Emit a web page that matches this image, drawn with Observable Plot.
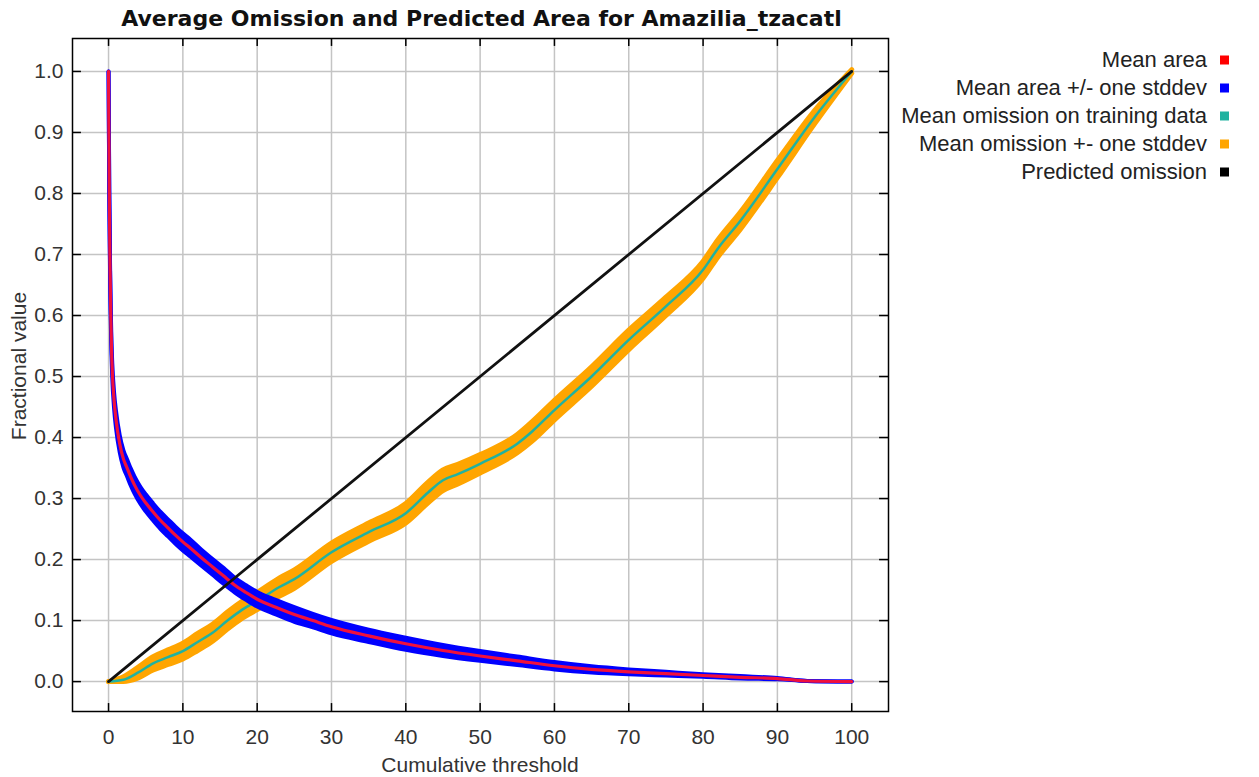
<!DOCTYPE html>
<html>
<head>
<meta charset="utf-8">
<script src="https://cdn.jsdelivr.net/npm/d3@7"></script>
<script src="https://cdn.jsdelivr.net/npm/@observablehq/plot@0.6"></script>
<style>
  html, body { margin: 0; padding: 0; background: #ffffff; }
  #wrap { position: relative; width: 1259px; height: 777px; overflow: hidden; font-family: "Liberation Sans", Arial, sans-serif; }
  #chart { position: absolute; left: 0; top: 0; }
  .title { position: absolute; left: 0; width: 963px; top: 6px; text-align: center; font-family: "DejaVu Sans", sans-serif; font-weight: bold; font-size: 22px; color: #111; white-space: nowrap; }
  .ylab { position: absolute; left: 19px; top: 366px; transform: translate(-50%, -50%) rotate(-90deg); font-size: 21px; color: #333; white-space: nowrap; }
  .xlab { position: absolute; left: 480px; top: 765px; transform: translate(-50%, -50%); font-size: 21px; color: #333; white-space: nowrap; }
  .leg { position: absolute; right: 52px; font-size: 22px; color: #222; white-space: nowrap; transform: translateY(-50%); }
  .sw { position: absolute; left: 1220px; width: 9px; height: 9px; transform: translateY(-50%); }
</style>
</head>
<body>
<div id="wrap">
  <div id="chart"></div>
  <div class="title">Average Omission and Predicted Area for Amazilia_tzacatl</div>
  <div class="ylab">Fractional value</div>
  <div class="xlab">Cumulative threshold</div>
  <div id="legend"></div>
</div>
<script>
// ---- Data ----
const xTicks = [0, 10, 20, 30, 40, 50, 60, 70, 80, 90, 100];
const yTicks = [0, 0.1, 0.2, 0.3, 0.4, 0.5, 0.6, 0.7, 0.8, 0.9, 1.0];

const areaThreshold = [0, 0.1, 0.2, 0.3, 0.4, 0.5, 0.75, 1.0, 1.5, 2.0, 2.5, 3.0, 3.5, 4.3, 5, 6, 7, 8, 9, 10, 11, 12.5, 14, 15.5, 17, 18.5, 20, 22.5, 25, 27.5, 30, 35, 40, 45, 50, 55, 60, 65, 70, 75, 80, 85, 90, 94, 100];
const meanArea      = [1.0, 0.8, 0.68, 0.6, 0.545, 0.51, 0.46, 0.43, 0.39, 0.365, 0.35, 0.335, 0.322, 0.305, 0.293, 0.278, 0.264, 0.252, 0.24, 0.229, 0.219, 0.203, 0.188, 0.173, 0.158, 0.146, 0.135, 0.122, 0.11, 0.1, 0.09, 0.075, 0.062, 0.051, 0.042, 0.034, 0.026, 0.02, 0.016, 0.013, 0.01, 0.007, 0.005, 0.001, 0.0];
const areaStddev    = [0.0, 0.004, 0.006, 0.008, 0.010, 0.012, 0.013, 0.014, 0.014, 0.014, 0.014, 0.014, 0.014, 0.014, 0.014, 0.014, 0.014, 0.014, 0.014, 0.014, 0.014, 0.013, 0.013, 0.013, 0.012, 0.012, 0.012, 0.012, 0.012, 0.011, 0.011, 0.010, 0.010, 0.009, 0.008, 0.007, 0.006, 0.005, 0.004, 0.003, 0.002, 0.002, 0.001, 0.0, 0.0];

const omissionThreshold = [0, 2, 4, 6, 8, 10, 12, 14, 16, 18, 20, 23, 25, 30, 35, 40, 43, 45, 47, 50, 55, 57, 60, 65, 70, 75, 80, 82, 85, 90, 95, 100];
const meanOmission      = [0, 0.003, 0.015, 0.03, 0.04, 0.05, 0.065, 0.08, 0.1, 0.118, 0.132, 0.155, 0.168, 0.212, 0.245, 0.276, 0.31, 0.33, 0.34, 0.357, 0.39, 0.41, 0.445, 0.5, 0.56, 0.615, 0.675, 0.71, 0.755, 0.84, 0.925, 1.0];
const omissionStddev    = [0, 0.005, 0.009, 0.011, 0.012, 0.013, 0.014, 0.014, 0.014, 0.014, 0.014, 0.015, 0.015, 0.015, 0.015, 0.016, 0.017, 0.017, 0.016, 0.015, 0.015, 0.016, 0.016, 0.016, 0.016, 0.015, 0.014, 0.014, 0.014, 0.014, 0.011, 0.003];

const predictedThreshold = [0, 100];
const predictedOmission  = [0, 1];

const legendLabels = ["Mean area", "Mean area +/- one stddev", "Mean omission on training data", "Mean omission +- one stddev", "Predicted omission"];
const legendColors = ["#ff0000", "#0000ff", "#20b2a0", "#ffa500", "#000000"];

// ---- Tables ----
const areaRows = areaThreshold.map((t, i) => ({t, m: meanArea[i], lo: meanArea[i] - areaStddev[i], hi: meanArea[i] + areaStddev[i]}));
const omRows = omissionThreshold.map((t, i) => ({t, m: meanOmission[i], lo: Math.max(0, meanOmission[i] - omissionStddev[i]), hi: meanOmission[i] + omissionStddev[i]}));
const predRows = predictedThreshold.map((t, i) => ({t, m: predictedOmission[i]}));

const xDom = [-4.85, 104.95];
const yDom = [-0.049, 1.054];
const tickLenY = 0.013;
const tickLenX = 1.2;

const chart = Plot.plot({
  width: 1259,
  height: 777,
  marginLeft: 72,
  marginRight: 371,
  marginTop: 38,
  marginBottom: 66,
  x: {domain: xDom, label: null},
  y: {domain: yDom, label: null},
  style: {fontFamily: "'Liberation Sans', Arial, sans-serif", background: "white"},
  marks: [
    Plot.gridX(xTicks, {stroke: "#c4c4c4", strokeOpacity: 1, strokeWidth: 1.5}),
    Plot.gridY(yTicks, {stroke: "#c4c4c4", strokeOpacity: 1, strokeWidth: 1.5}),
    // omission +- stddev (orange)
    Plot.areaY(omRows, {x: "t", y1: "lo", y2: "hi", fill: "#ffa500", curve: "monotone-x"}),
    Plot.lineY(omRows, {x: "t", y: "hi", stroke: "#ffa500", strokeWidth: 5, curve: "monotone-x"}),
    Plot.lineY(omRows, {x: "t", y: "lo", stroke: "#ffa500", strokeWidth: 5, curve: "monotone-x"}),
    Plot.lineY(omRows, {x: "t", y: "m", stroke: "#20b2a0", strokeWidth: 2.5, curve: "monotone-x"}),
    // area +- stddev (blue)
    Plot.areaY(areaRows, {x: "t", y1: "lo", y2: "hi", fill: "#0000ff", curve: "monotone-x"}),
    Plot.lineY(areaRows, {x: "t", y: "hi", stroke: "#0000ff", strokeWidth: 4, curve: "monotone-x"}),
    Plot.lineY(areaRows, {x: "t", y: "lo", stroke: "#0000ff", strokeWidth: 4, curve: "monotone-x"}),
    Plot.lineY(areaRows, {x: "t", y: "m", stroke: "#f0103c", strokeWidth: 3.2, curve: "monotone-x"}),
    // predicted omission
    Plot.lineY(predRows, {x: "t", y: "m", stroke: "#111", strokeWidth: 2.8}),
    // frame and inward ticks
    Plot.frame({stroke: "#000", strokeWidth: 1.5}),
    Plot.ruleX(xTicks, {x: d => d, y1: yDom[0], y2: yDom[0] + tickLenY, stroke: "#000", strokeWidth: 1.5}),
    Plot.ruleX(xTicks, {x: d => d, y1: yDom[1], y2: yDom[1] - tickLenY, stroke: "#000", strokeWidth: 1.5}),
    Plot.ruleY(yTicks, {y: d => d, x1: xDom[0], x2: xDom[0] + tickLenX, stroke: "#000", strokeWidth: 1.5}),
    Plot.ruleY(yTicks, {y: d => d, x1: xDom[1], x2: xDom[1] - tickLenX, stroke: "#000", strokeWidth: 1.5}),
    Plot.axisX(xTicks, {tickSize: 0, tickPadding: 18, fontSize: 21, fill: "#333", label: null}),
    Plot.axisY(yTicks, {tickSize: 0, tickPadding: 9, fontSize: 21, fill: "#333", label: null, tickFormat: d3.format(".1f")})
  ]
});
document.getElementById("chart").appendChild(chart);

// legend
const legendEl = document.getElementById("legend");
const rowY = [60, 88, 116, 144, 172];
legendLabels.forEach((lab, i) => {
  const t = document.createElement("div");
  t.className = "leg";
  t.style.top = rowY[i] + "px";
  t.textContent = lab;
  legendEl.appendChild(t);
  const s = document.createElement("div");
  s.className = "sw";
  s.style.top = rowY[i] + "px";
  s.style.background = legendColors[i];
  legendEl.appendChild(s);
});
</script>
</body>
</html>
